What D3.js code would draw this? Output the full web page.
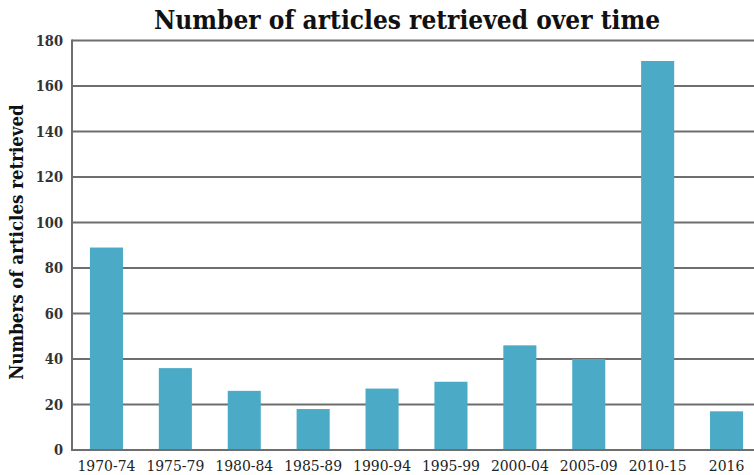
<!DOCTYPE html>
<html>
  <head>
    <meta charset="utf-8">
    <title>Number of articles retrieved over time</title>
    <script src="https://cdn.jsdelivr.net/npm/d3@7"></script>
    <style>
      body { margin: 0; background: #fff; }
      .title { font-family: "DejaVu Serif Condensed", "DejaVu Serif", serif; font-weight: bold; font-size: 26px; fill: #111; }
      .y-label { font-family: "DejaVu Serif Condensed", "DejaVu Serif", serif; font-weight: bold; font-size: 18.5px; fill: #111; }
      .tick-text { font-family: "DejaVu Serif Condensed", "DejaVu Serif", serif; font-size: 15.5px; fill: #222; }
      .y-tick-text { font-family: "DejaVu Serif Condensed", "DejaVu Serif", serif; font-weight: bold; font-size: 14.5px; fill: #333; }
      .grid-line { stroke: #6e6e6e; stroke-width: 2; }
      .bar { fill: #4babc6; }
    </style>
  </head>
  <body>
    <svg id="chart" width="754" height="475"></svg>
    <script>
    var categories = ["1970-74", "1975-79", "1980-84", "1985-89", "1990-94",
      "1995-99", "2000-04", "2005-09", "2010-15", "2016"];
    var counts = [89, 36, 26, 18, 27, 30, 46, 40, 171, 17];
    var yTicks = [0, 20, 40, 60, 80, 100, 120, 140, 160, 180];

    var data = categories.map(function(c, i) { return {period: c, value: counts[i]}; });

    var svg = d3.select("#chart");
    var plotLeft = 72, plotRight = 761, plotTop = 40.5, plotBottom = 450;

    var x = d3.scaleBand()
        .domain(categories)
        .range([plotLeft, plotRight])
        .paddingInner(0.52)
        .paddingOuter(0.26);

    var y = d3.scaleLinear()
        .domain([0, 180])
        .range([plotBottom, plotTop]);

    svg.append("text")
        .attr("class", "title")
        .attr("x", 407)
        .attr("y", 29)
        .attr("text-anchor", "middle")
        .text("Number of articles retrieved over time");

    // gridlines
    svg.append("g")
        .selectAll("line")
        .data(yTicks)
        .enter().append("line")
        .attr("class", "grid-line")
        .attr("x1", plotLeft)
        .attr("x2", 754)
        .attr("y1", function(d) { return y(d); })
        .attr("y2", function(d) { return y(d); });

    // y axis line
    svg.append("line")
        .attr("class", "grid-line")
        .attr("x1", plotLeft).attr("x2", plotLeft)
        .attr("y1", plotTop - 1).attr("y2", plotBottom + 1);

    svg.append("g")
        .selectAll("text")
        .data(yTicks)
        .enter().append("text")
        .attr("class", "y-tick-text")
        .attr("x", 63)
        .attr("y", function(d) { return y(d) + 5; })
        .attr("text-anchor", "end")
        .text(function(d) { return d; });

    svg.append("g")
        .selectAll("rect")
        .data(data)
        .enter().append("rect")
        .attr("class", "bar")
        .attr("x", function(d) { return x(d.period); })
        .attr("width", x.bandwidth())
        .attr("y", function(d) { return y(d.value); })
        .attr("height", function(d) { return y(0) - y(d.value) - 1; });

    svg.append("g")
        .selectAll("text")
        .data(categories)
        .enter().append("text")
        .attr("class", "tick-text")
        .attr("x", function(d) { return x(d) + x.bandwidth() / 2; })
        .attr("y", 471)
        .attr("text-anchor", "middle")
        .text(function(d) { return d; });

    svg.append("text")
        .attr("class", "y-label")
        .attr("transform", "translate(23,242) rotate(-90)")
        .attr("text-anchor", "middle")
        .text("Numbers of articles retrieved");
    </script>
  </body>
</html>
